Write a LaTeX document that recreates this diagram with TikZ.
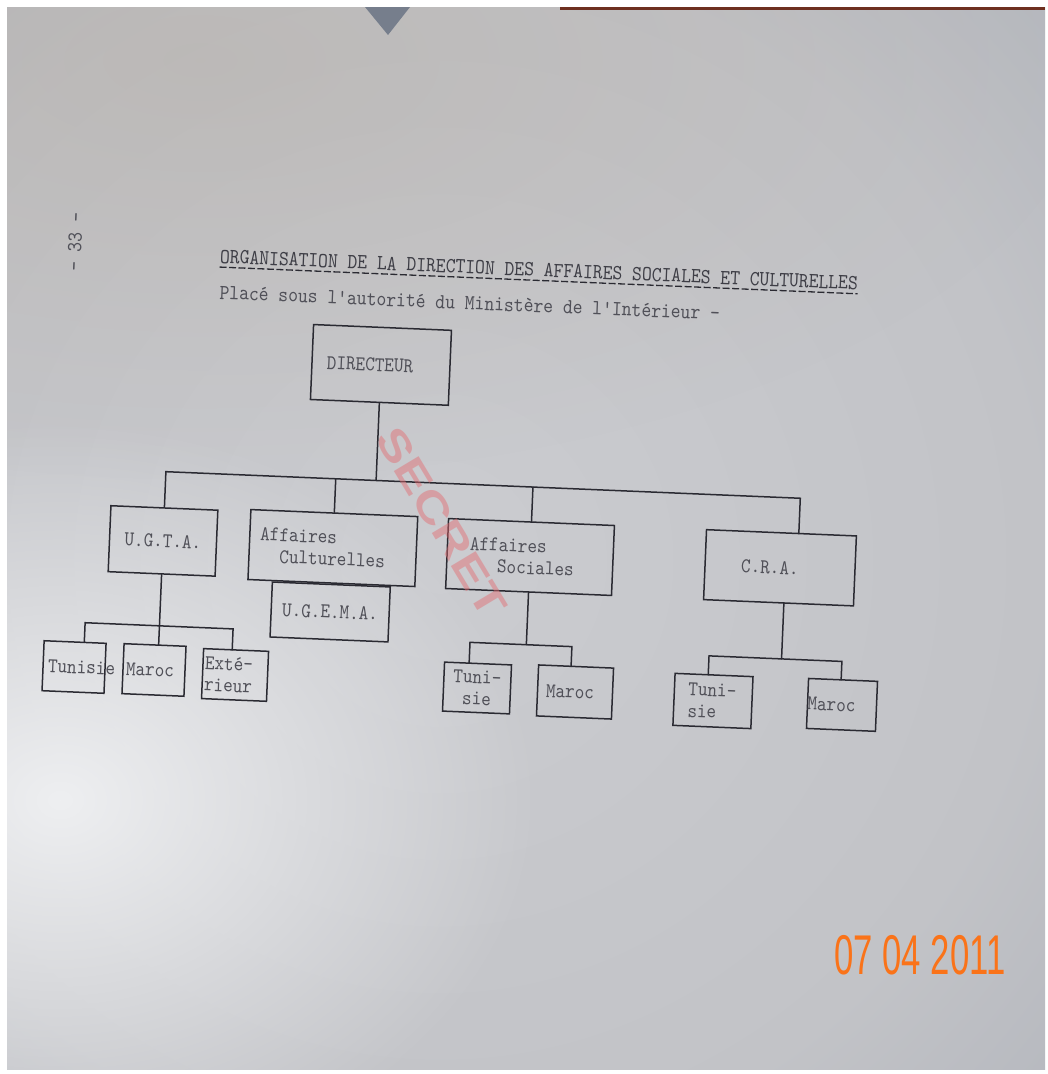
\documentclass[tikz,border=0pt]{standalone}
\usepackage{fontspec}
\usetikzlibrary{fadings}

% typewriter face, slightly condensed like the machine type
\newfontfamily\typer{lmmono10-regular.otf}[FakeStretch=0.87]
\newfontfamily\stampsans{Liberation Sans}
\newfontfamily\datefont{Liberation Sans}[FakeStretch=0.62]

\definecolor{inkc}{RGB}{42,42,50}
\definecolor{typec}{RGB}{80,80,88}
\definecolor{titlec}{RGB}{62,62,70}
\definecolor{stampc}{RGB}{228,105,110}
\definecolor{datec}{RGB}{250,115,25}
\definecolor{pA}{RGB}{203,204,208}
\definecolor{pB}{RGB}{194,195,199}
\definecolor{pC}{RGB}{178,181,188}
\definecolor{pD}{RGB}{150,153,160}
\definecolor{pE}{RGB}{120,126,138}
\definecolor{glowc}{RGB}{238,239,241}
\definecolor{warmc}{RGB}{176,166,154}
\definecolor{tric}{RGB}{118,126,140}
\definecolor{bandc}{RGB}{110,48,32}

\pgfdeclareradialshading{paperlight}{\pgfpoint{0bp}{0bp}}{%
  color(0bp)=(pA); color(10.7bp)=(pB); color(16bp)=(pC);
  color(19.6bp)=(pD); color(23.2bp)=(pE); color(50bp)=(pE)}
\tikzfading[name=glow, inner color=transparent!0, outer color=transparent!100]

\begin{document}
\begin{tikzpicture}[x=1pt, y=-1pt,
  box/.style={draw=inkc, line width=1.5pt, inner sep=0pt, text=typec,
    font=\typer\fontsize{21}{21.7}\selectfont},
  wire/.style={draw=inkc, line width=1.5pt, line cap=round},
  typed/.style={inner sep=0pt, text=titlec, font=\typer\fontsize{21.5}{24}\selectfont}]

\useasboundingbox (0,0) rectangle (1048,1074);
\fill[white] (0,0) rectangle (1048,1074);

% the sheet of paper
\begin{scope}
  \clip (7,7) rectangle (1045,1069);
  \fill[pE] (7,7) rectangle (1045,1069);
  \shade[shading=paperlight] (440,560) circle (1400);
  \fill[warmc, opacity=0.35, path fading=glow] (200,60) ellipse [x radius=900, y radius=420];
  \fill[glowc, path fading=glow] (60,800) ellipse [x radius=480, y radius=380];
  \fill[tric] (365,7) -- (410,7) -- (388,35) -- cycle;
  \fill[bandc] (560,7) rectangle (1045,10);
\end{scope}

\begin{scope}[rotate around={-2.4:(500,500)}, every node/.append style={transform shape}]
  % heading
  \node[typed, anchor=base west] (title) at (210,275)
    {ORGANISATION DE LA DIRECTION DES AFFAIRES SOCIALES ET CULTURELLES};
  \draw[inkc, line width=1.3pt, dash pattern=on 7pt off 2.5pt]
    ([yshift=-4pt]title.base west) -- ([yshift=-4pt]title.base east);
  \node[typed, anchor=base west, text=typec] (subtitle) at (211,311)
    {Placé sous l'autorité du Ministère de l'Intérieur -};
  \node[typed, rotate=90, text=typec] (folio) at (64.6,260) {- 33 -};

  % top of the chart
  \node[box, minimum width=138pt, minimum height=75pt, text width=108pt, align=left]
    (dir) at (375.4,370) {DIRECTEUR};

  % second level
  \node[box, minimum width=107pt, minimum height=66pt] (ugta) at (165,555) {U.G.T.A.};
  \node[box, minimum width=167pt, minimum height=70pt, text width=146pt, align=left]
    (ac) at (335,555) {Affaires\\\hspace*{20pt}Culturelles};
  \node[box, minimum width=118pt, minimum height=55pt, anchor=north]
    (ugema) at (ac.south) {U.G.E.M.A.};
  \node[box, minimum width=166pt, minimum height=70pt, text width=121pt, align=left]
    (as) at (532.4,555.7) {Affaires\\\hspace*{28pt}Sociales};
  \node[box, minimum width=150pt, minimum height=70pt] (cra) at (782.6,556) {C.R.A.\hspace*{20pt}};

  % third level
  \node[box, minimum width=62pt, minimum height=50pt] (tun1) at (81.4,684.7)
    {\makebox[52pt][l]{Tunisie}};
  \node[box, minimum width=62pt, minimum height=50pt] (mar1) at (161.4,684.3) {Maroc\hspace*{8pt}};
  \node[box, minimum width=65pt, minimum height=50pt, text width=61pt, align=left]
    (ext1) at (242.6,685.9) {Exté-\\rieur};
  \node[box, minimum width=67pt, minimum height=49pt, align=center] (tun2) at (484.9,688.8) {Tuni-\\sie};
  \node[box, minimum width=75pt, minimum height=51pt] (mar2) at (583,688.7) {Maroc\hspace*{10pt}};
  \node[box, minimum width=78pt, minimum height=52pt, text width=50pt, align=left]
    (tun3) at (721.2,691.9) {Tuni-\\sie};
  \node[box, minimum width=69pt, minimum height=50pt, text width=69pt, align=left]
    (mar3) at (850.3,690.4) {Maroc};

  % junction points of the connectors
  \coordinate (busL) at (165,485.7);
  \coordinate (busR) at (800,485.7);
  \coordinate (craIn) at (800,521);
  \coordinate (jDir) at (375.4,485.7);
  \coordinate (jAC) at (335,485.7);
  \coordinate (jAS) at (532.4,485.7);

  \coordinate (m1In) at (165,659.3);
  \coordinate (t1In) at (90.6,659.7);
  \coordinate (b1L) at (90.6,640);
  \coordinate (b1R) at (238.7,640);
  \coordinate (e1In) at (238.7,660.9);

  \coordinate (j2) at (532.4,643.5);
  \coordinate (t2In) at (476,664.3);
  \coordinate (b2L) at (476,643.5);
  \coordinate (b2R) at (578,643.5);
  \coordinate (m2In) at (578,663.2);

  \coordinate (c3Out) at (788,591);
  \coordinate (j3) at (788,647);
  \coordinate (t3In) at (715.4,665.9);
  \coordinate (b3L) at (715.4,647);
  \coordinate (b3R) at (848.4,647);
  \coordinate (m3In) at (848.4,665.4);

  % connectors
  \draw[wire] (ugta.north) -- (busL) -- (busR) -- (craIn);
  \draw[wire] (dir.south) -- (jDir);
  \draw[wire] (ac.north) -- (jAC);
  \draw[wire] (as.north) -- (jAS);

  \draw[wire] (ugta.south) -- (m1In);
  \draw[wire] (t1In) -- (b1L) -- (b1R) -- (e1In);

  \draw[wire] (as.south) -- (j2);
  \draw[wire] (t2In) -- (b2L) -- (b2R) -- (m2In);

  \draw[wire] (c3Out) -- (j3);
  \draw[wire] (t3In) -- (b3L) -- (b3R) -- (m3In);
\end{scope}

% red rubber stamp
\node[rotate=-59, text=stampc, opacity=0.45, inner sep=0pt,
  font=\stampsans\bfseries\fontsize{42}{42}\selectfont] (stamp) at (442,522)
  {\scalebox{1.25}[1]{SECRET}};

% camera date imprint
\node[text=datec, inner sep=0pt, font=\datefont\fontsize{56}{56}\selectfont]
  (date) at (920,955) {07 04 2011};
\end{tikzpicture}
\end{document}
